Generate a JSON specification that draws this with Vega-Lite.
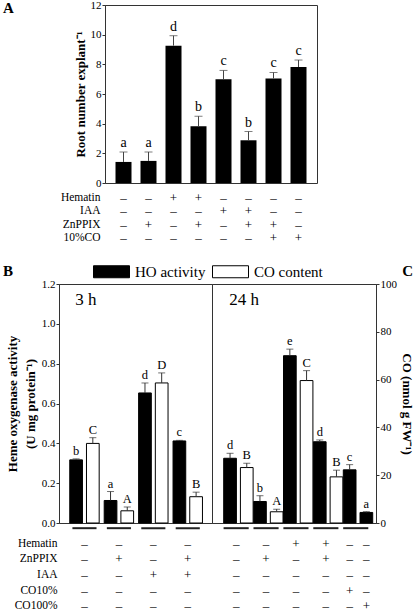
{
  "$schema": "https://vega.github.io/schema/vega-lite/v6.json",
  "padding": {"left": 2, "top": -2, "right": 0, "bottom": 0},
  "background": "white",
  "config": {
    "font": "Liberation Serif",
    "view": {"stroke": "#333", "strokeWidth": 1},
    "mark": {"color": "black"},
    "axis": {"labelFont": "Liberation Serif", "titleFont": "Liberation Serif", "labelFontSize": 11, "labelColor": "black", "titleColor": "black", "domainColor": "#333", "tickColor": "#333", "grid": false, "tickSize": 3, "labelPadding": 1, "titleFontWeight": "bold", "titleFontSize": 13, "labelOverlap": false},
    "text": {"font": "Liberation Serif", "color": "black"},
    "title": {"font": "Liberation Serif", "color": "black"}
  },
  "datasets": {
    "a": [
      {"id": 1, "v": 1.42, "hi": 2.09, "l": "a"},
      {"id": 2, "v": 1.49, "hi": 2.09, "l": "a"},
      {"id": 3, "v": 9.26, "hi": 9.93, "l": "d"},
      {"id": 4, "v": 3.83, "hi": 4.5, "l": "b"},
      {"id": 5, "v": 7.0, "hi": 7.59, "l": "c"},
      {"id": 6, "v": 2.88, "hi": 3.47, "l": "b"},
      {"id": 7, "v": 7.05, "hi": 7.45, "l": "c"},
      {"id": 8, "v": 7.82, "hi": 8.29, "l": "c"}
    ],
    "ta": [
      {"r": "Hematin", "id": 1, "t": "–"}, {"r": "Hematin", "id": 2, "t": "–"}, {"r": "Hematin", "id": 3, "t": "+"}, {"r": "Hematin", "id": 4, "t": "+"},
      {"r": "Hematin", "id": 5, "t": "–"}, {"r": "Hematin", "id": 6, "t": "–"}, {"r": "Hematin", "id": 7, "t": "–"}, {"r": "Hematin", "id": 8, "t": "–"},
      {"r": "IAA", "id": 1, "t": "–"}, {"r": "IAA", "id": 2, "t": "–"}, {"r": "IAA", "id": 3, "t": "–"}, {"r": "IAA", "id": 4, "t": "–"},
      {"r": "IAA", "id": 5, "t": "+"}, {"r": "IAA", "id": 6, "t": "+"}, {"r": "IAA", "id": 7, "t": "–"}, {"r": "IAA", "id": 8, "t": "–"},
      {"r": "ZnPPIX", "id": 1, "t": "–"}, {"r": "ZnPPIX", "id": 2, "t": "+"}, {"r": "ZnPPIX", "id": 3, "t": "–"}, {"r": "ZnPPIX", "id": 4, "t": "+"},
      {"r": "ZnPPIX", "id": 5, "t": "–"}, {"r": "ZnPPIX", "id": 6, "t": "+"}, {"r": "ZnPPIX", "id": 7, "t": "+"}, {"r": "ZnPPIX", "id": 8, "t": "–"},
      {"r": "10%CO", "id": 1, "t": "–"}, {"r": "10%CO", "id": 2, "t": "–"}, {"r": "10%CO", "id": 3, "t": "–"}, {"r": "10%CO", "id": 4, "t": "–"},
      {"r": "10%CO", "id": 5, "t": "–"}, {"r": "10%CO", "id": 6, "t": "–"}, {"r": "10%CO", "id": 7, "t": "+"}, {"r": "10%CO", "id": 8, "t": "+"}
    ],
    "b3": [
      {"g": 1, "s": 1, "m": "HO activity", "v": 0.317, "hi": 0.322, "l": "b"},
      {"g": 1, "s": 2, "m": "CO content", "v": 33.3, "hi": 35.7, "l": "C"},
      {"g": 2, "s": 1, "m": "HO activity", "v": 0.113, "hi": 0.158, "l": "a"},
      {"g": 2, "s": 2, "m": "CO content", "v": 5.1, "hi": 6.7, "l": "A"},
      {"g": 3, "s": 1, "m": "HO activity", "v": 0.653, "hi": 0.703, "l": "d"},
      {"g": 3, "s": 2, "m": "CO content", "v": 58.6, "hi": 62.8, "l": "D"},
      {"g": 4, "s": 1, "m": "HO activity", "v": 0.412, "hi": 0.415, "l": "c"},
      {"g": 4, "s": 2, "m": "CO content", "v": 11.0, "hi": 12.9, "l": "B"}
    ],
    "b24": [
      {"g": 1, "s": 1, "m": "HO activity", "v": 0.325, "hi": 0.35, "l": "d"},
      {"g": 1, "s": 2, "m": "CO content", "v": 23.2, "hi": 25.0, "l": "B"},
      {"g": 2, "s": 1, "m": "HO activity", "v": 0.108, "hi": 0.137, "l": "b"},
      {"g": 2, "s": 2, "m": "CO content", "v": 4.7, "hi": 5.8, "l": "A"},
      {"g": 3, "s": 1, "m": "HO activity", "v": 0.84, "hi": 0.873, "l": "e"},
      {"g": 3, "s": 2, "m": "CO content", "v": 59.6, "hi": 63.75, "l": "C"},
      {"g": 4, "s": 1, "m": "HO activity", "v": 0.408, "hi": 0.417, "l": "d"},
      {"g": 4, "s": 2, "m": "CO content", "v": 19.3, "hi": 22.1, "l": "B"},
      {"g": 5, "s": 1, "m": "HO activity", "v": 0.267, "hi": 0.293, "l": "c"},
      {"g": 5, "s": 2, "m": "HO activity", "v": 0.053, "hi": 0.057, "l": "a"}
    ],
    "tb3": [
      {"r": "Hematin", "g": 1, "t": "–"}, {"r": "Hematin", "g": 2, "t": "–"}, {"r": "Hematin", "g": 3, "t": "–"}, {"r": "Hematin", "g": 4, "t": "–"},
      {"r": "ZnPPIX", "g": 1, "t": "–"}, {"r": "ZnPPIX", "g": 2, "t": "+"}, {"r": "ZnPPIX", "g": 3, "t": "–"}, {"r": "ZnPPIX", "g": 4, "t": "+"},
      {"r": "IAA", "g": 1, "t": "–"}, {"r": "IAA", "g": 2, "t": "–"}, {"r": "IAA", "g": 3, "t": "+"}, {"r": "IAA", "g": 4, "t": "+"},
      {"r": "CO10%", "g": 1, "t": "–"}, {"r": "CO10%", "g": 2, "t": "–"}, {"r": "CO10%", "g": 3, "t": "–"}, {"r": "CO10%", "g": 4, "t": "–"},
      {"r": "CO100%", "g": 1, "t": "–"}, {"r": "CO100%", "g": 2, "t": "–"}, {"r": "CO100%", "g": 3, "t": "–"}, {"r": "CO100%", "g": 4, "t": "–"}
    ],
    "tb24": [
      {"r": "Hematin", "g": 1, "t": "–"}, {"r": "Hematin", "g": 2, "t": "–"}, {"r": "Hematin", "g": 3, "t": "+"}, {"r": "Hematin", "g": 4, "t": "+"},
      {"r": "ZnPPIX", "g": 1, "t": "–"}, {"r": "ZnPPIX", "g": 2, "t": "+"}, {"r": "ZnPPIX", "g": 3, "t": "–"}, {"r": "ZnPPIX", "g": 4, "t": "+"},
      {"r": "IAA", "g": 1, "t": "–"}, {"r": "IAA", "g": 2, "t": "–"}, {"r": "IAA", "g": 3, "t": "–"}, {"r": "IAA", "g": 4, "t": "–"},
      {"r": "CO10%", "g": 1, "t": "–"}, {"r": "CO10%", "g": 2, "t": "–"}, {"r": "CO10%", "g": 3, "t": "–"}, {"r": "CO10%", "g": 4, "t": "–"},
      {"r": "CO100%", "g": 1, "t": "–"}, {"r": "CO100%", "g": 2, "t": "–"}, {"r": "CO100%", "g": 3, "t": "–"}, {"r": "CO100%", "g": 4, "t": "–"}
    ],
    "tb24b": [
      {"r": "Hematin", "g": 5, "s": 1, "t": "–"}, {"r": "Hematin", "g": 5, "s": 2, "t": "–"},
      {"r": "ZnPPIX", "g": 5, "s": 1, "t": "–"}, {"r": "ZnPPIX", "g": 5, "s": 2, "t": "–"},
      {"r": "IAA", "g": 5, "s": 1, "t": "–"}, {"r": "IAA", "g": 5, "s": 2, "t": "–"},
      {"r": "CO10%", "g": 5, "s": 1, "t": "+"}, {"r": "CO10%", "g": 5, "s": 2, "t": "–"},
      {"r": "CO100%", "g": 5, "s": 1, "t": "–"}, {"r": "CO100%", "g": 5, "s": 2, "t": "+"}
    ],
    "h3": [{"g": 1, "y": 1.2, "t": "3 h"}],
    "h24": [{"g": 1, "y": 1.2, "t": "24 h"}]
  },
  "spacing": 17,
  "vconcat": [
    {
      "bounds": "flush",
      "spacing": 0,
      "hconcat": [
        {
          "width": 46, "height": 10,
          "view": {"stroke": null},
          "data": {"values": [{"t": ""}]},
          "mark": {"type": "text", "color": "black"},
          "encoding": {"text": {"field": "t"}}
        },
        {
          "bounds": "flush",
          "spacing": 8,
          "vconcat": [
            {
              "width": 212, "height": 178,
              "title": {"text": "A", "anchor": "start", "frame": "group", "dx": -102, "dy": 29, "offset": 0, "baseline": "alphabetic", "fontSize": 15, "fontWeight": "bold"},
              "data": {"name": "a"},
              "encoding": {
                "x": {"field": "id", "type": "ordinal", "scale": {"type": "band", "paddingInner": 0.36, "paddingOuter": 0.42}, "axis": null}
              },
              "layer": [
                {
                  "mark": {"type": "bar", "color": "black"},
                  "encoding": {
                    "y": {"field": "v", "type": "quantitative", "scale": {"domain": [0, 12], "nice": false},
                      "axis": {"values": [0, 2, 4, 6, 8, 10, 12], "labelOverlap": false, "title": "Root number explant⁻¹", "titlePadding": 3}}
                  }
                },
                {
                  "mark": {"type": "rule", "color": "#444"},
                  "encoding": {"y": {"field": "v", "type": "quantitative",
                      "axis": {"values": [0, 2, 4, 6, 8, 10, 12], "labelOverlap": false, "title": "Root number explant⁻¹", "titlePadding": 3}}, "y2": {"field": "hi"}}
                },
                {
                  "mark": {"type": "tick", "color": "#444", "size": 8, "thickness": 1},
                  "encoding": {"y": {"field": "hi", "type": "quantitative",
                      "axis": {"values": [0, 2, 4, 6, 8, 10, 12], "labelOverlap": false, "title": "Root number explant⁻¹", "titlePadding": 3}}}
                },
                {
                  "mark": {"type": "text", "dy": -9, "fontSize": 14, "color": "black"},
                  "encoding": {"y": {"field": "hi", "type": "quantitative",
                      "axis": {"values": [0, 2, 4, 6, 8, 10, 12], "labelOverlap": false, "title": "Root number explant⁻¹", "titlePadding": 3}}, "text": {"field": "l"}}
                }
              ]
            },
            {
              "width": 212, "height": 54,
              "view": {"stroke": null},
              "data": {"name": "ta"},
              "mark": {"type": "text", "fontSize": 13, "color": "black"},
              "encoding": {
                "x": {"field": "id", "type": "ordinal", "scale": {"type": "band", "paddingInner": 0.36, "paddingOuter": 0.42}, "axis": null},
                "y": {"field": "r", "type": "nominal", "sort": ["Hematin", "IAA", "ZnPPIX", "10%CO"],
                  "scale": {"type": "band", "paddingInner": 0, "paddingOuter": 0},
                  "axis": {"title": null, "domain": false, "ticks": false, "labelPadding": 5, "labelFontSize": 11.5}},
                "text": {"field": "t"}
              }
            }
          ]
        }
      ]
    },
    {
      "bounds": "flush",
      "columns": 2,
      "spacing": {"row": 13, "column": 0},
      "concat": [
        {
          "width": 153, "height": 239,
          "title": {"text": "B", "anchor": "start", "frame": "group", "dx": -56, "dy": 12.5, "offset": 0, "baseline": "alphabetic", "fontSize": 15, "fontWeight": "bold"},
          "data": {"name": "b3"},
          "resolve": {"scale": {"y": "independent"}},
          "layer": [
            {
              "encoding": {
                "x": {"field": "g", "type": "ordinal", "scale": {"domain": [1, 2, 3, 4], "paddingInner": 0, "paddingOuter": 0.222, "align": 0.54}, "axis": null}
              },
              "layer": [
                {
                  "transform": [{"filter": "datum.m == 'HO activity'"}],
                  "mark": {"type": "bar", "stroke": "black", "strokeWidth": 1},
                  "encoding": {
                    "xOffset": {"field": "s", "type": "ordinal", "scale": {"domain": [1, 2], "paddingInner": 0.24, "paddingOuter": 0.15}},
                    "y": {"field": "v", "type": "quantitative", "scale": {"domain": [0, 1.2], "nice": false},
                      "axis": {"values": [0, 0.2, 0.4, 0.6, 0.8, 1.0, 1.2], "labelOverlap": false, "format": ".1f", "title": ["Heme oxygenase activity", "(U mg protein⁻¹)"], "titleLineHeight": 18, "titlePadding": 4}},
                    "color": {"field": "m", "type": "nominal", "scale": {"domain": ["HO activity", "CO content"], "range": ["black", "white"]},
                      "legend": {"orient": "none", "legendX": 40, "legendY": 254, "direction": "horizontal", "title": null, "symbolType": "M-1.5,-0.5H1.5V0.5H-1.5Z", "symbolSize": 576, "symbolStrokeColor": "black", "symbolStrokeWidth": 1, "labelFont": "Liberation Serif", "labelFontSize": 15, "labelOffset": 11, "columnPadding": 4, "labelColor": "black"}}
                  }
                },
                {
                  "transform": [{"filter": "datum.m == 'HO activity'"}],
                  "mark": {"type": "rule", "color": "#333"},
                  "encoding": {
                    "xOffset": {"field": "s", "type": "ordinal"},
                    "y": {"field": "v", "type": "quantitative",
                      "axis": {"values": [0, 0.2, 0.4, 0.6, 0.8, 1.0, 1.2], "labelOverlap": false, "format": ".1f", "title": ["Heme oxygenase activity", "(U mg protein⁻¹)"], "titleLineHeight": 18, "titlePadding": 4}},
                    "y2": {"field": "hi"}
                  }
                },
                {
                  "transform": [{"filter": "datum.m == 'HO activity'"}],
                  "mark": {"type": "tick", "color": "#333", "size": 7, "thickness": 1},
                  "encoding": {
                    "xOffset": {"field": "s", "type": "ordinal"},
                    "y": {"field": "hi", "type": "quantitative",
                      "axis": {"values": [0, 0.2, 0.4, 0.6, 0.8, 1.0, 1.2], "labelOverlap": false, "format": ".1f", "title": ["Heme oxygenase activity", "(U mg protein⁻¹)"], "titleLineHeight": 18, "titlePadding": 4}}
                  }
                },
                {
                  "transform": [{"filter": "datum.m == 'HO activity'"}],
                  "mark": {"type": "text", "dy": -8, "fontSize": 12.5, "color": "black"},
                  "encoding": {
                    "xOffset": {"field": "s", "type": "ordinal"},
                    "y": {"field": "hi", "type": "quantitative",
                      "axis": {"values": [0, 0.2, 0.4, 0.6, 0.8, 1.0, 1.2], "labelOverlap": false, "format": ".1f", "title": ["Heme oxygenase activity", "(U mg protein⁻¹)"], "titleLineHeight": 18, "titlePadding": 4}},
                    "text": {"field": "l"}
                  }
                },
                {
                  "transform": [{"filter": "datum.s == 1"}],
                  "mark": {"type": "bar", "color": "#222", "width": {"band": 0.7}},
                  "encoding": {
                    "y": {"datum": -0.021,
                      "axis": {"values": [0, 0.2, 0.4, 0.6, 0.8, 1.0, 1.2], "labelOverlap": false, "format": ".1f", "title": ["Heme oxygenase activity", "(U mg protein⁻¹)"], "titleLineHeight": 18, "titlePadding": 4}},
                    "y2": {"datum": -0.031}
                  }
                },
                {
                  "data": {"name": "h3"},
                  "mark": {"type": "text", "align": "left", "baseline": "top", "fontSize": 17, "dx": 8, "dy": 8, "color": "black"},
                  "encoding": {
                    "x": {"field": "g", "type": "ordinal", "bandPosition": 0},
                    "y": {"field": "y", "type": "quantitative",
                      "axis": {"values": [0, 0.2, 0.4, 0.6, 0.8, 1.0, 1.2], "labelOverlap": false, "format": ".1f", "title": ["Heme oxygenase activity", "(U mg protein⁻¹)"], "titleLineHeight": 18, "titlePadding": 4}},
                    "text": {"field": "t"}
                  }
                }
              ]
            },
            {
              "transform": [{"filter": "datum.m == 'CO content'"}],
              "encoding": {
                "x": {"field": "g", "type": "ordinal", "axis": null},
                "xOffset": {"field": "s", "type": "ordinal"}
              },
              "layer": [
                {
                  "mark": {"type": "bar", "stroke": "black", "strokeWidth": 1},
                  "encoding": {
                    "y": {"field": "v", "type": "quantitative", "scale": {"domain": [0, 100], "nice": false}, "axis": null},
                    "color": {"field": "m", "type": "nominal", "scale": {"domain": ["HO activity", "CO content"], "range": ["black", "white"]},
                      "legend": {"orient": "none", "legendX": 40, "legendY": 254, "direction": "horizontal", "title": null, "symbolType": "M-1.5,-0.5H1.5V0.5H-1.5Z", "symbolSize": 576, "symbolStrokeColor": "black", "symbolStrokeWidth": 1, "labelFont": "Liberation Serif", "labelFontSize": 15, "labelOffset": 11, "columnPadding": 4, "labelColor": "black"}}
                  }
                },
                {
                  "mark": {"type": "rule", "color": "#333"},
                  "encoding": {"y": {"field": "v", "type": "quantitative", "axis": null}, "y2": {"field": "hi"}}
                },
                {
                  "mark": {"type": "tick", "color": "#333", "size": 7, "thickness": 1},
                  "encoding": {"y": {"field": "hi", "type": "quantitative", "axis": null}}
                },
                {
                  "mark": {"type": "text", "dy": -8, "fontSize": 12.5, "color": "black"},
                  "encoding": {"y": {"field": "hi", "type": "quantitative", "axis": null}, "text": {"field": "l"}}
                }
              ]
            }
          ]
        },
        {
          "width": 164, "height": 239,
          "title": {"text": "C", "anchor": "end", "frame": "group", "dx": 37, "dy": 12.5, "offset": 0, "baseline": "alphabetic", "fontSize": 15, "fontWeight": "bold"},
          "data": {"name": "b24"},
          "resolve": {"scale": {"y": "independent"}},
          "layer": [
            {
              "encoding": {
                "x": {"field": "g", "type": "ordinal", "scale": {"domain": [1, 2, 3, 4, 5], "paddingInner": 0, "paddingOuter": 0.2425, "align": 0.634}, "axis": null}
              },
              "layer": [
                {
                  "transform": [{"filter": "datum.m == 'HO activity'"}],
                  "mark": {"type": "bar", "stroke": "black", "strokeWidth": 1},
                  "encoding": {
                    "xOffset": {"field": "s", "type": "ordinal", "scale": {"domain": [1, 2], "paddingInner": 0.164, "paddingOuter": 0.106}},
                    "y": {"field": "v", "type": "quantitative", "scale": {"domain": [0, 1.2], "nice": false}, "axis": null},
                    "color": {"field": "m", "type": "nominal", "scale": {"domain": ["HO activity", "CO content"], "range": ["black", "white"]},
                      "legend": {"orient": "none", "legendX": 40, "legendY": 254, "direction": "horizontal", "title": null, "symbolType": "M-1.5,-0.5H1.5V0.5H-1.5Z", "symbolSize": 576, "symbolStrokeColor": "black", "symbolStrokeWidth": 1, "labelFont": "Liberation Serif", "labelFontSize": 15, "labelOffset": 11, "columnPadding": 4, "labelColor": "black"}}
                  }
                },
                {
                  "transform": [{"filter": "datum.m == 'HO activity'"}],
                  "mark": {"type": "rule", "color": "#333"},
                  "encoding": {
                    "xOffset": {"field": "s", "type": "ordinal"},
                    "y": {"field": "v", "type": "quantitative", "axis": null}, "y2": {"field": "hi"}
                  }
                },
                {
                  "transform": [{"filter": "datum.m == 'HO activity'"}],
                  "mark": {"type": "tick", "color": "#333", "size": 7, "thickness": 1},
                  "encoding": {
                    "xOffset": {"field": "s", "type": "ordinal"},
                    "y": {"field": "hi", "type": "quantitative", "axis": null}
                  }
                },
                {
                  "transform": [{"filter": "datum.m == 'HO activity'"}],
                  "mark": {"type": "text", "dy": -8, "fontSize": 12.5, "color": "black"},
                  "encoding": {
                    "xOffset": {"field": "s", "type": "ordinal"},
                    "y": {"field": "hi", "type": "quantitative", "axis": null},
                    "text": {"field": "l"}
                  }
                },
                {
                  "transform": [{"filter": "datum.s == 1"}],
                  "mark": {"type": "bar", "color": "#222", "width": {"band": 0.84}},
                  "encoding": {"y": {"datum": -0.021, "axis": null}, "y2": {"datum": -0.031}}
                },
                {
                  "data": {"name": "h24"},
                  "mark": {"type": "text", "align": "left", "baseline": "top", "fontSize": 17, "dx": 8, "dy": 8, "color": "black"},
                  "encoding": {
                    "x": {"field": "g", "type": "ordinal", "bandPosition": 0},
                    "y": {"field": "y", "type": "quantitative", "axis": null},
                    "text": {"field": "t"}
                  }
                }
              ]
            },
            {
              "transform": [{"filter": "datum.m == 'CO content'"}],
              "encoding": {
                "x": {"field": "g", "type": "ordinal", "axis": null},
                "xOffset": {"field": "s", "type": "ordinal"}
              },
              "layer": [
                {
                  "mark": {"type": "bar", "stroke": "black", "strokeWidth": 1},
                  "encoding": {
                    "y": {"field": "v", "type": "quantitative", "scale": {"domain": [0, 100], "nice": false},
                      "axis": {"orient": "right", "values": [0, 20, 40, 60, 80, 100], "labelOverlap": false, "title": "CO (nmol g FW⁻¹)", "titlePadding": 3}},
                    "color": {"field": "m", "type": "nominal", "scale": {"domain": ["HO activity", "CO content"], "range": ["black", "white"]},
                      "legend": {"orient": "none", "legendX": 40, "legendY": 254, "direction": "horizontal", "title": null, "symbolType": "M-1.5,-0.5H1.5V0.5H-1.5Z", "symbolSize": 576, "symbolStrokeColor": "black", "symbolStrokeWidth": 1, "labelFont": "Liberation Serif", "labelFontSize": 15, "labelOffset": 11, "columnPadding": 4, "labelColor": "black"}}
                  }
                },
                {
                  "mark": {"type": "rule", "color": "#333"},
                  "encoding": {"y": {"field": "v", "type": "quantitative",
                      "axis": {"orient": "right", "values": [0, 20, 40, 60, 80, 100], "labelOverlap": false, "title": "CO (nmol g FW⁻¹)", "titlePadding": 3}}, "y2": {"field": "hi"}}
                },
                {
                  "mark": {"type": "tick", "color": "#333", "size": 7, "thickness": 1},
                  "encoding": {"y": {"field": "hi", "type": "quantitative",
                      "axis": {"orient": "right", "values": [0, 20, 40, 60, 80, 100], "labelOverlap": false, "title": "CO (nmol g FW⁻¹)", "titlePadding": 3}}}
                },
                {
                  "mark": {"type": "text", "dy": -8, "fontSize": 12.5, "color": "black"},
                  "encoding": {"y": {"field": "hi", "type": "quantitative",
                      "axis": {"orient": "right", "values": [0, 20, 40, 60, 80, 100], "labelOverlap": false, "title": "CO (nmol g FW⁻¹)", "titlePadding": 3}}, "text": {"field": "l"}}
                }
              ]
            }
          ]
        },
        {
          "width": 153, "height": 78,
          "view": {"stroke": null},
          "data": {"name": "tb3"},
          "mark": {"type": "text", "fontSize": 13, "color": "black"},
          "encoding": {
            "x": {"field": "g", "type": "ordinal", "scale": {"type": "band", "domain": [1, 2, 3, 4], "paddingInner": 0, "paddingOuter": 0.222, "align": 0.54}, "axis": null},
            "y": {"field": "r", "type": "nominal", "sort": ["Hematin", "ZnPPIX", "IAA", "CO10%", "CO100%"],
              "scale": {"type": "band", "paddingInner": 0, "paddingOuter": 0},
              "axis": {"title": null, "domain": false, "ticks": false, "labelPadding": 2, "labelFontSize": 11.5}},
            "text": {"field": "t"}
          }
        },
        {
          "width": 164, "height": 78,
          "view": {"stroke": null},
          "encoding": {
            "x": {"field": "g", "type": "ordinal", "scale": {"type": "band", "domain": [1, 2, 3, 4, 5], "paddingInner": 0, "paddingOuter": 0.2425, "align": 0.634}, "axis": null},
            "y": {"field": "r", "type": "nominal", "sort": ["Hematin", "ZnPPIX", "IAA", "CO10%", "CO100%"],
              "scale": {"type": "band", "paddingInner": 0, "paddingOuter": 0}, "axis": null},
            "text": {"field": "t"}
          },
          "layer": [
            {
              "data": {"name": "tb24"},
              "mark": {"type": "text", "fontSize": 13, "color": "black"}
            },
            {
              "data": {"name": "tb24b"},
              "mark": {"type": "text", "fontSize": 13, "color": "black"},
              "encoding": {
                "xOffset": {"field": "s", "type": "ordinal", "scale": {"type": "band", "domain": [1, 2], "paddingInner": 0.164, "paddingOuter": 0.106}}
              }
            }
          ]
        }
      ]
    }
  ]
}
